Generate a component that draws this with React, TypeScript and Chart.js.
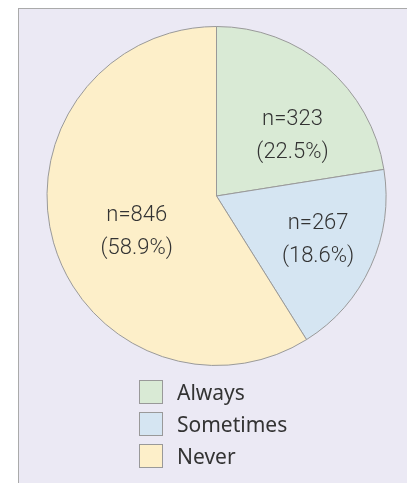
import React, { useEffect, useRef } from "react";
import { Chart, registerables } from "chart.js";

Chart.register(...registerables);

const categories = ["Always", "Sometimes", "Never"];
const counts = [323, 267, 846];
const sliceColors = ["#d9ead5", "#d5e5f2", "#fdefc9"];

const labelPlugin = {
  id: "sliceLabels",
  afterDatasetsDraw(chart: any, _args: any, opts: any) {
    const ctx = chart.ctx;
    const meta = chart.getDatasetMeta(0);
    const data = chart.data.datasets[0].data as number[];
    const total = data.reduce((a, b) => a + b, 0);
    const nudges = opts.nudges || [];
    ctx.save();
    ctx.fillStyle = "#333";
    ctx.font = "300 22px Roboto";
    ctx.textAlign = "center";
    ctx.textBaseline = "middle";
    meta.data.forEach((arc: any, i: number) => {
      const p = arc.getProps(["x", "y", "startAngle", "endAngle", "outerRadius"], true);
      const mid = (p.startAngle + p.endAngle) / 2;
      const r = p.outerRadius * 0.6;
      const n = nudges[i] || [0, 0];
      const cx = p.x + Math.cos(mid) * r + n[0];
      const cy = p.y + Math.sin(mid) * r + n[1];
      const pct = ((data[i] / total) * 100).toFixed(1);
      ctx.fillText("n=" + data[i], cx, cy - 16);
      ctx.fillText("(" + pct + "%)", cx, cy + 17);
    });
    ctx.restore();
  },
};

export default function App() {
  const ref = useRef<HTMLCanvasElement>(null);
  useEffect(() => {
    if (!ref.current) return;
    const chart = new Chart(ref.current, {
      type: "pie",
      data: {
        labels: categories,
        datasets: [
          {
            data: counts,
            backgroundColor: sliceColors,
            borderColor: "#999",
            borderWidth: 1,
          },
        ],
      },
      options: {
        animation: false,
        responsive: false,
        layout: { padding: { top: 17, bottom: 17, left: 0, right: 0 } },
        plugins: {
          legend: { display: false },
          tooltip: { enabled: false },
          sliceLabels: { nudges: [[10, 17], [9, 1], [18, 7]] },
        } as any,
      },
      plugins: [labelPlugin],
    });
    return () => chart.destroy();
  }, []);

  return (
    <div
      style={{
        position: "relative",
        marginLeft: 10,
        width: 395,
        height: 490,
        border: "1px solid #aaa",
        background: "#ebe9f4",
      }}
    >
      <canvas ref={ref} width={395} height={374} style={{ display: "block" }} />
      <div style={{ position: "absolute", left: 120, top: 367 }}>
        {categories.map((c, i) => (
          <div
            key={c}
            style={{ display: "flex", alignItems: "center", height: 32 }}
          >
            <div
              style={{
                width: 22,
                height: 22,
                border: "1px solid #999",
                background: sliceColors[i],
                marginRight: 14,
              }}
            />
            <span
              style={{
                fontFamily: "'Noto Sans'",
                fontSize: 21,
                color: "#333",
                lineHeight: "24px",
              }}
            >
              {c}
            </span>
          </div>
        ))}
      </div>
    </div>
  );
}
